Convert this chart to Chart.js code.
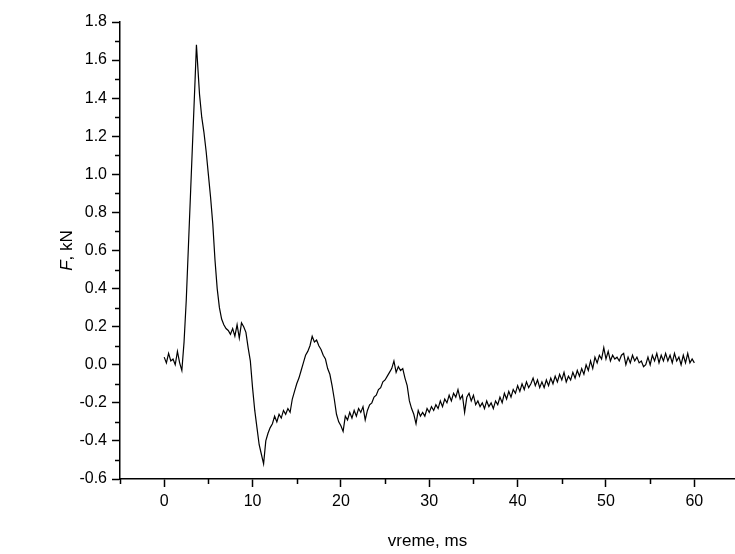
<!DOCTYPE html>
<html>
<head>
<meta charset="utf-8">
<script src="https://cdn.jsdelivr.net/npm/chart.js@4"></script>
<style>
    html, body { margin: 0; padding: 0; background: #fff; }
    #wrap { width: 735px; height: 554px; }
</style>
</head>
<body>
<div id="wrap"><canvas id="forceChart" width="735" height="554"></canvas></div>
<script>
// time, ms
const timeMs = [
    0, 0.25, 0.5, 0.75, 1, 1.25, 1.5, 1.75, 2, 2.25,
    2.5, 2.75, 3, 3.25, 3.5, 3.65, 4, 4.25, 4.5, 4.75,
    5, 5.25, 5.5, 5.75, 6, 6.25, 6.5, 6.75, 7, 7.25,
    7.5, 7.75, 8, 8.25, 8.5, 8.75, 9, 9.25, 9.5, 9.75,
    10, 10.25, 10.5, 10.75, 11, 11.25, 11.5, 11.75, 12, 12.25,
    12.5, 12.75, 13, 13.25, 13.5, 13.75, 14, 14.25, 14.5, 14.75,
    15, 15.25, 15.5, 15.75, 16, 16.25, 16.5, 16.75, 17, 17.25,
    17.5, 17.75, 18, 18.25, 18.5, 18.75, 19, 19.25, 19.5, 19.75,
    20, 20.25, 20.5, 20.75, 21, 21.25, 21.5, 21.75, 22, 22.25,
    22.5, 22.75, 23, 23.25, 23.5, 23.75, 24, 24.25, 24.5, 24.75,
    25, 25.25, 25.5, 25.75, 26, 26.25, 26.5, 26.75, 27, 27.25,
    27.5, 27.75, 28, 28.25, 28.5, 28.75, 29, 29.25, 29.5, 29.75,
    30, 30.25, 30.5, 30.75, 31, 31.25, 31.5, 31.75, 32, 32.25,
    32.5, 32.75, 33, 33.25, 33.5, 33.75, 34, 34.25, 34.5, 34.75,
    35, 35.25, 35.5, 35.75, 36, 36.25, 36.5, 36.75, 37, 37.25,
    37.5, 37.75, 38, 38.25, 38.5, 38.75, 39, 39.25, 39.5, 39.75,
    40, 40.25, 40.5, 40.75, 41, 41.25, 41.5, 41.75, 42, 42.25,
    42.5, 42.75, 43, 43.25, 43.5, 43.75, 44, 44.25, 44.5, 44.75,
    45, 45.25, 45.5, 45.75, 46, 46.25, 46.5, 46.75, 47, 47.25,
    47.5, 47.75, 48, 48.25, 48.5, 48.75, 49, 49.25, 49.5, 49.75,
    50, 50.25, 50.5, 50.75, 51, 51.25, 51.5, 51.75, 52, 52.25,
    52.5, 52.75, 53, 53.25, 53.5, 53.75, 54, 54.25, 54.5, 54.75,
    55, 55.25, 55.5, 55.75, 56, 56.25, 56.5, 56.75, 57, 57.25,
    57.5, 57.75, 58, 58.25, 58.5, 58.75, 59, 59.25, 59.5, 59.75,
    60
];

// F, kN
const forceKN = [
    0.04, 0.01, 0.06, 0.02, 0.03, 0.00, 0.07, 0.01, -0.03, 0.12,
    0.34, 0.63, 0.92, 1.21, 1.50, 1.68, 1.42, 1.30, 1.22, 1.12,
    1.00, 0.88, 0.74, 0.55, 0.40, 0.30, 0.24, 0.21, 0.19, 0.18,
    0.16, 0.19, 0.15, 0.21, 0.14, 0.22, 0.20, 0.17, 0.09, 0.02,
    -0.12, -0.24, -0.33, -0.42, -0.47, -0.52, -0.40, -0.36, -0.33, -0.31,
    -0.27, -0.30, -0.26, -0.28, -0.24, -0.26, -0.23, -0.25, -0.18, -0.14,
    -0.10, -0.07, -0.03, 0.01, 0.05, 0.07, 0.10, 0.15, 0.12, 0.13,
    0.10, 0.08, 0.05, 0.03, -0.02, -0.05, -0.11, -0.18, -0.26, -0.30,
    -0.32, -0.35, -0.27, -0.29, -0.25, -0.28, -0.24, -0.27, -0.23, -0.25,
    -0.22, -0.29, -0.24, -0.21, -0.20, -0.17, -0.16, -0.13, -0.12, -0.09,
    -0.08, -0.06, -0.04, -0.02, 0.02, -0.04, -0.01, -0.03, -0.02, -0.07,
    -0.11, -0.19, -0.23, -0.26, -0.31, -0.24, -0.27, -0.25, -0.27, -0.23,
    -0.25, -0.22, -0.24, -0.21, -0.23, -0.19, -0.22, -0.18, -0.20, -0.16,
    -0.19, -0.15, -0.17, -0.13, -0.18, -0.16, -0.25, -0.17, -0.15, -0.19,
    -0.16, -0.21, -0.19, -0.22, -0.20, -0.23, -0.19, -0.22, -0.20, -0.23,
    -0.19, -0.21, -0.17, -0.20, -0.15, -0.18, -0.14, -0.17, -0.13, -0.15,
    -0.11, -0.14, -0.10, -0.13, -0.09, -0.12, -0.10, -0.07, -0.11, -0.08,
    -0.12, -0.09, -0.12, -0.08, -0.11, -0.07, -0.10, -0.06, -0.09, -0.05,
    -0.08, -0.04, -0.09, -0.06, -0.08, -0.04, -0.07, -0.03, -0.06, -0.02,
    -0.05, 0.00, -0.03, 0.02, -0.02, 0.04, 0.01, 0.05, 0.03, 0.09,
    0.03, 0.07, 0.02, 0.05, 0.03, 0.04, 0.02, 0.05, 0.06, 0.00,
    0.04, 0.01, 0.05, 0.02, 0.04, 0.01, 0.02, -0.01, 0.00, 0.04,
    0.00, 0.05, 0.02, 0.06, 0.01, 0.05, 0.02, 0.06, 0.02, 0.05,
    0.01, 0.06, 0.02, 0.04, 0.00, 0.05, 0.01, 0.06, 0.01, 0.03,
    0.01
];

const xTickValues = [0, 10, 20, 30, 40, 50, 60];
const xMinorTicks = [-5, 5, 15, 25, 35, 45, 55];
const yTickValues = [-0.6, -0.4, -0.2, 0, 0.2, 0.4, 0.6, 0.8, 1.0, 1.2, 1.4, 1.6, 1.8];
const yMinorTicks = [-0.5, -0.3, -0.1, 0.1, 0.3, 0.5, 0.7, 0.9, 1.1, 1.3, 1.5, 1.7];

const FONT = "'Liberation Sans', Arial, sans-serif";
const TICK_SIZE = 16;
const TITLE_SIZE = 17;

// minor ticks and the two axis titles (F is italic)
const extrasPlugin = {
    id: "extras",
    afterDraw(chart) {
        const ctx = chart.ctx;
        const xs = chart.scales.x;
        const ys = chart.scales.y;
        const area = chart.chartArea;

        ctx.save();
        ctx.strokeStyle = "#000";
        ctx.lineWidth = 1.5;
        ctx.beginPath();
        xMinorTicks.forEach(v => {
            const px = Math.round(xs.getPixelForValue(v)) + 0.5;
            ctx.moveTo(px, area.bottom);
            ctx.lineTo(px, area.bottom + 5);
        });
        yMinorTicks.forEach(v => {
            const py = Math.round(ys.getPixelForValue(v)) + 0.5;
            ctx.moveTo(area.left, py);
            ctx.lineTo(area.left - 5, py);
        });
        ctx.stroke();

        ctx.fillStyle = "#000";
        ctx.textBaseline = "middle";

        // x title
        ctx.font = TITLE_SIZE + "px " + FONT;
        ctx.textAlign = "center";
        ctx.fillText("vreme, ms", (area.left + area.right) / 2, 541);

        // y title
        ctx.translate(67, (area.top + area.bottom) / 2);
        ctx.rotate(-Math.PI / 2);
        ctx.font = "italic " + TITLE_SIZE + "px " + FONT;
        const w1 = ctx.measureText("F").width;
        ctx.font = TITLE_SIZE + "px " + FONT;
        const w2 = ctx.measureText(", kN").width;
        const start = -(w1 + w2) / 2;
        ctx.textAlign = "left";
        ctx.font = "italic " + TITLE_SIZE + "px " + FONT;
        ctx.fillText("F", start, 0);
        ctx.font = TITLE_SIZE + "px " + FONT;
        ctx.fillText(", kN", start + w1, 0);
        ctx.restore();
    }
};

const points = timeMs.map((t, i) => ({ x: t, y: forceKN[i] }));

new Chart(document.getElementById("forceChart"), {
    type: "line",
    data: {
        datasets: [{
            data: points,
            borderColor: "#000",
            borderWidth: 1.2,
            pointRadius: 0,
            tension: 0,
            fill: false
        }]
    },
    options: {
        responsive: false,
        animation: false,
        layout: { padding: { top: 22, right: 0, left: 0, bottom: 0 } },
        plugins: { legend: { display: false }, tooltip: { enabled: false } },
        scales: {
            x: {
                type: "linear",
                min: -5,
                max: 64.6,
                afterFit: s => { s.height = 75; },
                afterBuildTicks: s => { s.ticks = xTickValues.map(v => ({ value: v })); },
                grid: { drawOnChartArea: false, tickLength: 8, tickColor: "#000", tickWidth: 1.5 },
                border: { color: "#000", width: 1.5 },
                ticks: { color: "#000", padding: 5, maxRotation: 0, font: { family: FONT, size: TICK_SIZE } }
            },
            y: {
                min: -0.6,
                max: 1.8,
                afterFit: s => { s.width = 120; },
                afterBuildTicks: s => { s.ticks = yTickValues.map(v => ({ value: v })); },
                grid: { drawOnChartArea: false, tickLength: 8, tickColor: "#000", tickWidth: 1.5 },
                border: { color: "#000", width: 1.5 },
                ticks: {
                    color: "#000",
                    padding: 5,
                    font: { family: FONT, size: TICK_SIZE },
                    callback: v => v.toFixed(1)
                }
            }
        }
    },
    plugins: [extrasPlugin]
});
</script>
</body>
</html>
